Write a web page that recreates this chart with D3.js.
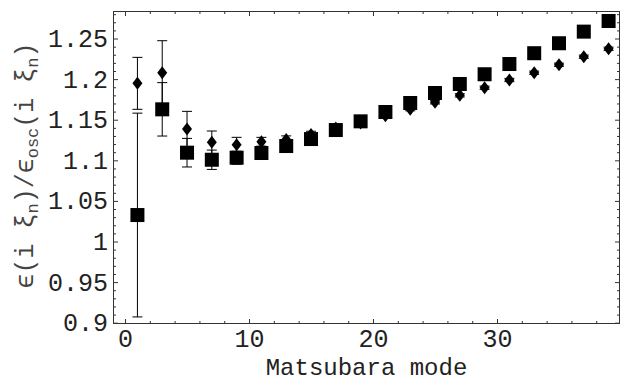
<!DOCTYPE html>
<html>
<head>
<meta charset="utf-8">
<script src="https://cdn.jsdelivr.net/npm/d3@7"></script>
<style>
  html, body { margin: 0; padding: 0; background: #fff; }
  svg { display: block; }
</style>
</head>
<body>
<svg id="chart" width="626" height="383"></svg>
<script>
// ---- data ----
const modes = [1, 3, 5, 7, 9, 11, 13, 15, 17, 19, 21, 23, 25, 27, 29, 31, 33, 35, 37, 39];
const squareValues = [1.0326, 1.1628, 1.1094, 1.1007, 1.1032, 1.1090, 1.1176, 1.1262, 1.1373, 1.1480,
                      1.1595, 1.1706, 1.1829, 1.1940, 1.2060, 1.2186, 1.2319, 1.2442, 1.2585, 1.2716];
const squareErrors = [0.1255, 0.0329, 0.0176, 0.0119, 0.0080, 0.0050, 0.0040, 0.0030, 0.0030, 0.0020,
                      0.0020, 0.0020, 0.0020, 0.0020, 0.0020, 0.0020, 0.0020, 0.0020, 0.0020, 0.0020];
const diamondValues = [1.1948, 1.2079, 1.1385, 1.1222, 1.1192, 1.1229, 1.1256, 1.1318, 1.1398, 1.1459,
                       1.1550, 1.1630, 1.1714, 1.1800, 1.1894, 1.1989, 1.2079, 1.2177, 1.2276, 1.2374];
const diamondErrors = [0.0320, 0.0394, 0.0218, 0.0139, 0.0091, 0.0054, 0.0045, 0.0040, 0.0030, 0.0025,
                       0.0020, 0.0020, 0.0020, 0.0020, 0.0020, 0.0020, 0.0020, 0.0020, 0.0020, 0.0020];
const xMajorTicks = [0, 10, 20, 30];
const xMinorTicks = [2, 4, 6, 8, 12, 14, 16, 18, 22, 24, 26, 28, 32, 34, 36, 38];
const yMajorTicks = [0.9, 0.95, 1.0, 1.05, 1.1, 1.15, 1.2, 1.25];
const yTickLabels = ["0.9", "0.95", "1", "1.05", "1.1", "1.15", "1.2", "1.25"];
const yMinorTicks = [0.91, 0.92, 0.93, 0.94, 0.96, 0.97, 0.98, 0.99, 1.01, 1.02, 1.03, 1.04,
                     1.06, 1.07, 1.08, 1.09, 1.11, 1.12, 1.13, 1.14, 1.16, 1.17, 1.18, 1.19,
                     1.21, 1.22, 1.23, 1.24, 1.26, 1.27, 1.28];
const xTitle = "Matsubara mode";

// ---- layout ----
const L = 113, R = 620, T = 11, B = 324;
const svg = d3.select("#chart");
const x = d3.scaleLinear().domain([-0.97, 39.92]).range([L, R]);
const y = d3.scaleLinear().domain([0.8984, 1.2839]).range([B, T]);

const FONT = "'Liberation Mono', 'Courier New', monospace";
const frameColor = "#333";

function styleAxis(g, showLabels) {
  g.select(".domain").remove();
  g.selectAll(".tick line").attr("stroke", frameColor).attr("stroke-width", 1);
  g.selectAll(".tick text").attr("font-family", FONT).attr("font-size", 25).attr("fill", "#222");
  if (!showLabels) g.selectAll(".tick text").remove();
}

// bottom axis
svg.append("g").attr("transform", `translate(0,${B})`)
  .call(d3.axisBottom(x).tickValues(xMajorTicks).tickSize(-5).tickPadding(5).tickFormat(d3.format("d")))
  .call(g => styleAxis(g, true));
svg.append("g").attr("transform", `translate(0,${B})`)
  .call(d3.axisBottom(x).tickValues(xMinorTicks).tickSize(-3).tickFormat(""))
  .call(g => styleAxis(g, false));
// top axis
svg.append("g").attr("transform", `translate(0,${T})`)
  .call(d3.axisTop(x).tickValues(xMajorTicks).tickSize(-5).tickFormat(""))
  .call(g => styleAxis(g, false));
svg.append("g").attr("transform", `translate(0,${T})`)
  .call(d3.axisTop(x).tickValues(xMinorTicks).tickSize(-3).tickFormat(""))
  .call(g => styleAxis(g, false));
// left axis
svg.append("g").attr("transform", `translate(${L},0)`)
  .call(d3.axisLeft(y).tickValues(yMajorTicks).tickSize(-5).tickPadding(5)
        .tickFormat((d, i) => yTickLabels[i]))
  .call(g => styleAxis(g, true));
svg.append("g").attr("transform", `translate(${L},0)`)
  .call(d3.axisLeft(y).tickValues(yMinorTicks).tickSize(-3).tickFormat(""))
  .call(g => styleAxis(g, false));
// right axis
svg.append("g").attr("transform", `translate(${R},0)`)
  .call(d3.axisRight(y).tickValues(yMajorTicks).tickSize(-5).tickFormat(""))
  .call(g => styleAxis(g, false));
svg.append("g").attr("transform", `translate(${R},0)`)
  .call(d3.axisRight(y).tickValues(yMinorTicks).tickSize(-3).tickFormat(""))
  .call(g => styleAxis(g, false));

// frame
svg.append("rect").attr("x", L + 0.5).attr("y", T + 0.5)
  .attr("width", R - L - 1).attr("height", B - T - 1)
  .attr("fill", "none").attr("stroke", frameColor).attr("stroke-width", 1);

// ---- error bars ----
function errorBars(vals, errs, cls) {
  const g = svg.append("g").attr("class", cls).attr("stroke", "#000").attr("stroke-width", 1);
  modes.forEach((m, i) => {
    const cx = x(m), y1 = y(vals[i] + errs[i]), y2 = y(vals[i] - errs[i]);
    g.append("line").attr("x1", cx).attr("x2", cx).attr("y1", y1).attr("y2", y2);
    g.append("line").attr("x1", cx - 5).attr("x2", cx + 5).attr("y1", y1).attr("y2", y1);
    g.append("line").attr("x1", cx - 5).attr("x2", cx + 5).attr("y1", y2).attr("y2", y2);
  });
}
errorBars(squareValues, squareErrors, "sqerr");
errorBars(diamondValues, diamondErrors, "dmerr");

// diamonds
svg.append("g").selectAll("path").data(modes).join("path")
  .attr("d", (m, i) => {
    const cx = x(m), cy = y(diamondValues[i]);
    return `M${cx},${cy - 6.5}L${cx + 5},${cy}L${cx},${cy + 6.5}L${cx - 5},${cy}Z`;
  })
  .attr("fill", "#000");

// squares
svg.append("g").selectAll("rect").data(modes).join("rect")
  .attr("x", m => x(m) - 7)
  .attr("y", (m, i) => y(squareValues[i]) - 7)
  .attr("width", 14).attr("height", 14)
  .attr("fill", "#000");

// ---- titles ----
svg.append("text")
  .attr("x", (L + R) / 2).attr("y", 375)
  .attr("text-anchor", "middle")
  .attr("font-family", FONT).attr("font-size", 24).attr("fill", "#222")
  .text(xTitle);

const yt = svg.append("text")
  .attr("transform", `translate(33,${(T + B) / 2 - 2}) rotate(-90)`)
  .attr("text-anchor", "middle")
  .attr("font-family", FONT).attr("font-size", 25).attr("fill", "#444");
const parts = [
  ["\u03F5(i \u03BE", 0], ["n", 1], [")/\u03F5", 0], ["osc", 1], ["(i \u03BE", 0], ["n", 1], [")", 0]
];
parts.forEach(([t, sub], i) => {
  const prevSub = i > 0 ? parts[i - 1][1] : 0;
  const ts = yt.append("tspan").text(t).attr("dy", sub ? 5 : (prevSub ? -5 : 0));
  if (sub) ts.attr("font-size", 17);
});
</script>
</body>
</html>
